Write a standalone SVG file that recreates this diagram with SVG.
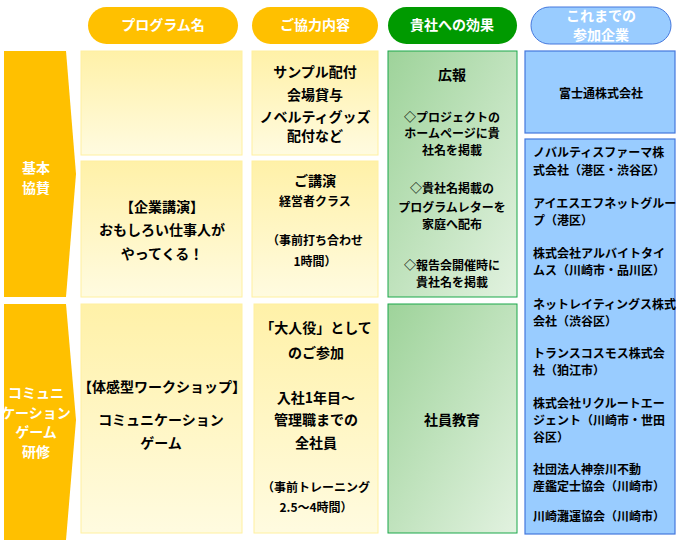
<svg xmlns="http://www.w3.org/2000/svg" width="685" height="540" viewBox="0 0 685 540">
<defs>
<linearGradient id="yg" x1="0" y1="0" x2="0" y2="1"><stop offset="0" stop-color="#fff1a8"/><stop offset="1" stop-color="#fffbe0"/></linearGradient>
<linearGradient id="gg" x1="0" y1="0" x2="1" y2="1"><stop offset="0" stop-color="#9ed39a"/><stop offset="1" stop-color="#e2f2e0"/></linearGradient>
<style>
text{font-family:"Noto Sans CJK JP","Noto Sans",sans-serif;font-weight:bold;font-size:14px;fill:#000;text-anchor:middle}
.w{fill:#fff;font-size:14px}
.l{text-anchor:start}
.s{font-size:12px}
.y{fill:url(#yg);stroke:#fff0a0;stroke-width:1}
.g{fill:url(#gg);stroke:#1aa84a;stroke-width:1}
.b{fill:#99ccff;stroke:#4477dd;stroke-width:1.2}
.a{fill:#ffc000}
</style>
</defs>
<g id="headers">
<rect x="88" y="7" width="150" height="37" rx="18.5" fill="#ffc000"/><text class="w" x="163" y="30">プログラム名</text>
<rect x="252" y="7" width="126" height="37" rx="18.5" fill="#ffc000"/><text class="w" x="315" y="30">ご協力内容</text>
<rect x="388" y="7" width="129" height="37" rx="18.5" fill="#009a00"/><text class="w" x="452" y="30">貴社への効果</text>
<rect x="531" y="7" width="140" height="37" rx="18.5" fill="#99ccff" stroke="#4477dd"/><text class="w" x="601" y="21">これまでの</text><text class="w" x="601" y="40">参加企業</text>
</g>
<g id="row1-label"><path class="a" d="M4 51H66L76 174L66 297H4Z"/><text class="w" x="36" y="173">基本</text><text class="w" x="36" y="193">協賛</text></g>
<g id="row2-label"><path class="a" d="M4 304H66L76 420L66 540H4Z"/><text class="w" x="36" y="398">コミュニ</text><text class="w" x="36" y="418">ケーション</text><text class="w" x="36" y="437">ゲーム</text><text class="w" x="36" y="457">研修</text></g>
<g id="p1"><rect class="y" x="81" y="51" width="161" height="104"/></g>
<g id="p2"><rect class="y" x="81" y="161" width="161" height="136"/><text x="162" y="212">【企業講演】</text><text x="162" y="235">おもしろい仕事人が</text><text x="162" y="259">やってくる！</text></g>
<g id="p3"><rect class="y" x="81" y="304" width="161" height="229"/><text x="162" y="392">【体感型ワークショップ】</text><text x="161" y="425">コミュニケーション</text><text x="161" y="448">ゲーム</text></g>
<g id="c1"><rect class="y" x="252" y="51" width="126" height="104"/><text x="315" y="77">サンプル配付</text><text x="315" y="100">会場貸与</text><text x="315" y="122">ノベルティグッズ</text><text x="315" y="141">配付など</text></g>
<g id="c2"><rect class="y" x="252" y="161" width="126" height="136"/><text x="315" y="186">ご講演</text><text class="s" x="315" y="206">経営者クラス</text><text class="s" x="315" y="245">（事前打ち合わせ</text><text class="s" x="315" y="266">1時間）</text></g>
<g id="c3"><rect class="y" x="254" y="304" width="124" height="229"/><text x="316" y="333">「大人役」として</text><text x="316" y="358">のご参加</text><text x="316" y="403">入社1年目～</text><text x="316" y="425">管理職までの</text><text x="316" y="448">全社員</text><text class="s" x="316" y="492">（事前トレーニング</text><text class="s" x="316" y="512">2.5～4時間）</text></g>
<g id="e1"><rect class="g" x="388" y="51" width="129" height="246"/><text x="452" y="80">広報</text><text class="s" x="452" y="122">◇プロジェクトの</text><text class="s" x="452" y="138">ホームページに貴</text><text class="s" x="452" y="155">社名を掲載</text><text class="s" x="452" y="193">◇貴社名掲載の</text><text class="s" x="452" y="212">プログラムレターを</text><text class="s" x="452" y="229">家庭へ配布</text><text class="s" x="452" y="270">◇報告会開催時に</text><text class="s" x="452" y="287">貴社名を掲載</text></g>
<g id="e2"><rect class="g" x="388" y="304" width="129" height="229"/><text x="452" y="425">社員教育</text></g>
<g id="k1"><rect class="b" x="525" y="51" width="150" height="82"/><text class="s" x="601" y="98">富士通株式会社</text></g>
<g id="k2"><rect class="b" x="525" y="139" width="150" height="395"/>
<text class="l s" x="533" y="157">ノバルティスファーマ株</text><text class="l s" x="533" y="175">式会社（港区・渋谷区）</text>
<text class="l s" x="533" y="208">アイエスエフネットグルー</text><text class="l s" x="533" y="225">プ（港区）</text>
<text class="l s" x="533" y="258">株式会社アルバイトタイ</text><text class="l s" x="533" y="275">ムス（川崎市・品川区）</text>
<text class="l s" x="533" y="309">ネットレイティングス株式</text><text class="l s" x="533" y="326">会社（渋谷区）</text>
<text class="l s" x="533" y="358">トランスコスモス株式会</text><text class="l s" x="533" y="375">社（狛江市）</text>
<text class="l s" x="533" y="408">株式会社リクルートエー</text><text class="l s" x="533" y="425">ジェント（川崎市・世田</text><text class="l s" x="533" y="442">谷区）</text>
<text class="l s" x="533" y="474">社団法人神奈川不動</text><text class="l s" x="533" y="491">産鑑定士協会（川崎市）</text>
<text class="l s" x="533" y="521">川崎灘運協会（川崎市）</text>
</g>
<g id="connectors"/>
</svg>
